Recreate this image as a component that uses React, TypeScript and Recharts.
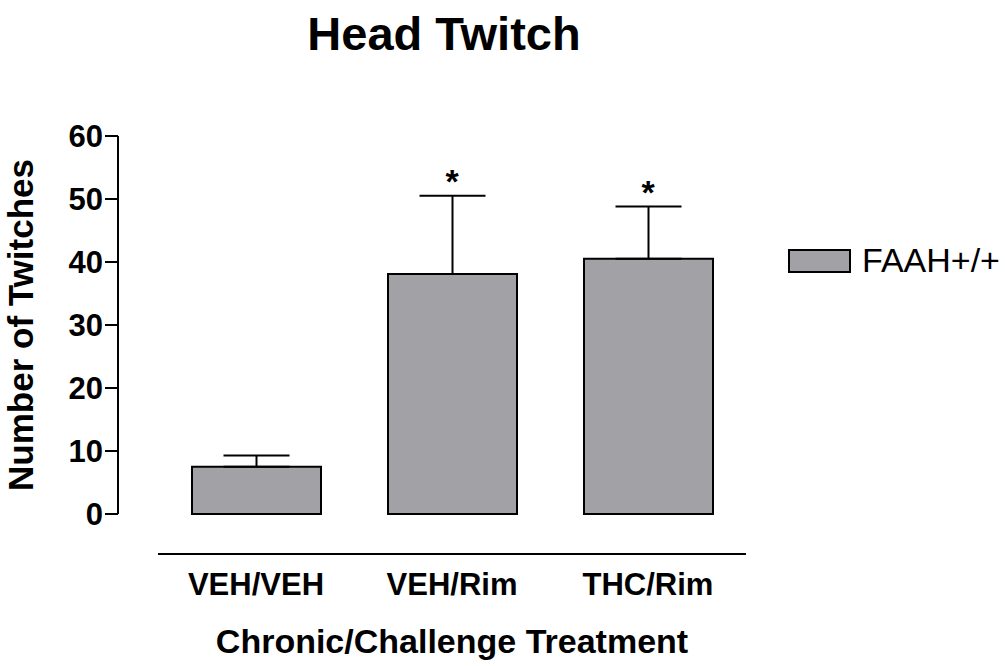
import React from "react";
import {
  ComposedChart,
  Bar,
  ErrorBar,
  Line,
  XAxis,
  YAxis,
  Legend,
} from "recharts";

// values
const categories = ["VEH/VEH", "VEH/Rim", "THC/Rim"];
const means = [7.5, 38.1, 40.5];
const sems = [1.8, 12.4, 8.3];
const significant = [false, true, true];
const yTicks = [0, 10, 20, 30, 40, 50, 60];
const seriesName = "FAAH+/+";

const FONT = "'Liberation Sans', Arial, Helvetica, sans-serif";
const BAR_FILL = "#a2a1a6";

const data = categories.map((name, i) => ({
  name,
  mean: means[i],
  err: [0, sems[i]], // upper whisker only
  star: significant[i] ? means[i] + sems[i] : null,
}));

// category label plus the detached x axis line underneath the bars
const CategoryTick = ({ x, y, payload }: any) => {
  const half = payload?.offset ?? 98;
  return (
    <g>
      <line x1={x - half} y1={y + 40} x2={x + half} y2={y + 40} stroke="#000" strokeWidth={2} />
      <text
        x={x}
        y={y + 81}
        textAnchor="middle"
        fontFamily={FONT}
        fontSize={31}
        fontWeight="bold"
        fill="#000"
      >
        {payload.value}
      </text>
    </g>
  );
};

const StarDot = ({ cx, cy, index }: any) => {
  if (cy == null || isNaN(cy)) return <g key={`s-${index}`} />;
  return (
    <text
      key={`s-${index}`}
      x={cx}
      y={cy - 3}
      textAnchor="middle"
      fontFamily={FONT}
      fontSize={34}
      fontWeight="bold"
      fill="#000"
    >
      *
    </text>
  );
};

const LegendBox = () => (
  <svg width={216} height={44}>
    <rect x={1} y={10} width={61} height={22} fill={BAR_FILL} stroke="#000" strokeWidth={2} />
    <text x={74} y={32} fontFamily={FONT} fontSize={34} fill="#000">
      {seriesName}
    </text>
  </svg>
);

export default function App() {
  return (
    <div
      style={{
        position: "absolute",
        left: 0,
        top: 0,
        width: 1005,
        height: 666,
        background: "#fff",
        fontFamily: FONT,
      }}
    >
      <div
        style={{
          position: "absolute",
          left: 0,
          top: 10,
          width: 888,
          textAlign: "center",
          fontSize: 47,
          lineHeight: "48px",
          fontWeight: "bold",
          color: "#000",
        }}
      >
        Head Twitch
      </div>
      <ComposedChart
        width={1005}
        height={666}
        data={data}
        margin={{ top: 136, right: 219, left: 0, bottom: 0 }}
      >
        <XAxis
          dataKey="name"
          height={152}
          padding={{ left: 40, right: 40 }}
          axisLine={false}
          tickLine={false}
          tickSize={0}
          tickMargin={0}
          interval={0}
          tick={<CategoryTick />}
          label={{
            value: "Chronic/Challenge Treatment",
            position: "insideBottom",
            offset: 13,
            style: { fontSize: 34, fontWeight: "bold", fill: "#000", fontFamily: FONT },
          }}
        />
        <YAxis
          width={118}
          domain={[0, 60]}
          ticks={yTicks}
          interval={0}
          axisLine={{ stroke: "#000", strokeWidth: 2 }}
          tickLine={{ stroke: "#000", strokeWidth: 2 }}
          tickSize={13}
          tickMargin={2}
          tick={{ fontSize: 31, fontWeight: "bold", fill: "#000", fontFamily: FONT }}
          label={{
            value: "Number of Twitches",
            angle: -90,
            position: "insideLeft",
            offset: 21,
            style: {
              textAnchor: "middle",
              fontSize: 35,
              fontWeight: "bold",
              fill: "#000",
              fontFamily: FONT,
            },
          }}
        />
        <Legend
          layout="horizontal"
          align="center"
          verticalAlign="middle"
          content={<LegendBox />}
          wrapperStyle={{ position: "absolute", left: 788, top: 240, width: 216 }}
        />
        <Bar
          dataKey="mean"
          name={seriesName}
          barSize={129}
          fill={BAR_FILL}
          stroke="#000"
          strokeWidth={2}
          isAnimationActive={false}
        >
          <ErrorBar dataKey="err" width={33} stroke="#000" strokeWidth={2} direction="y" />
        </Bar>
        <Line
          dataKey="star"
          stroke="none"
          dot={<StarDot />}
          activeDot={false}
          legendType="none"
          isAnimationActive={false}
        />
      </ComposedChart>
    </div>
  );
}
